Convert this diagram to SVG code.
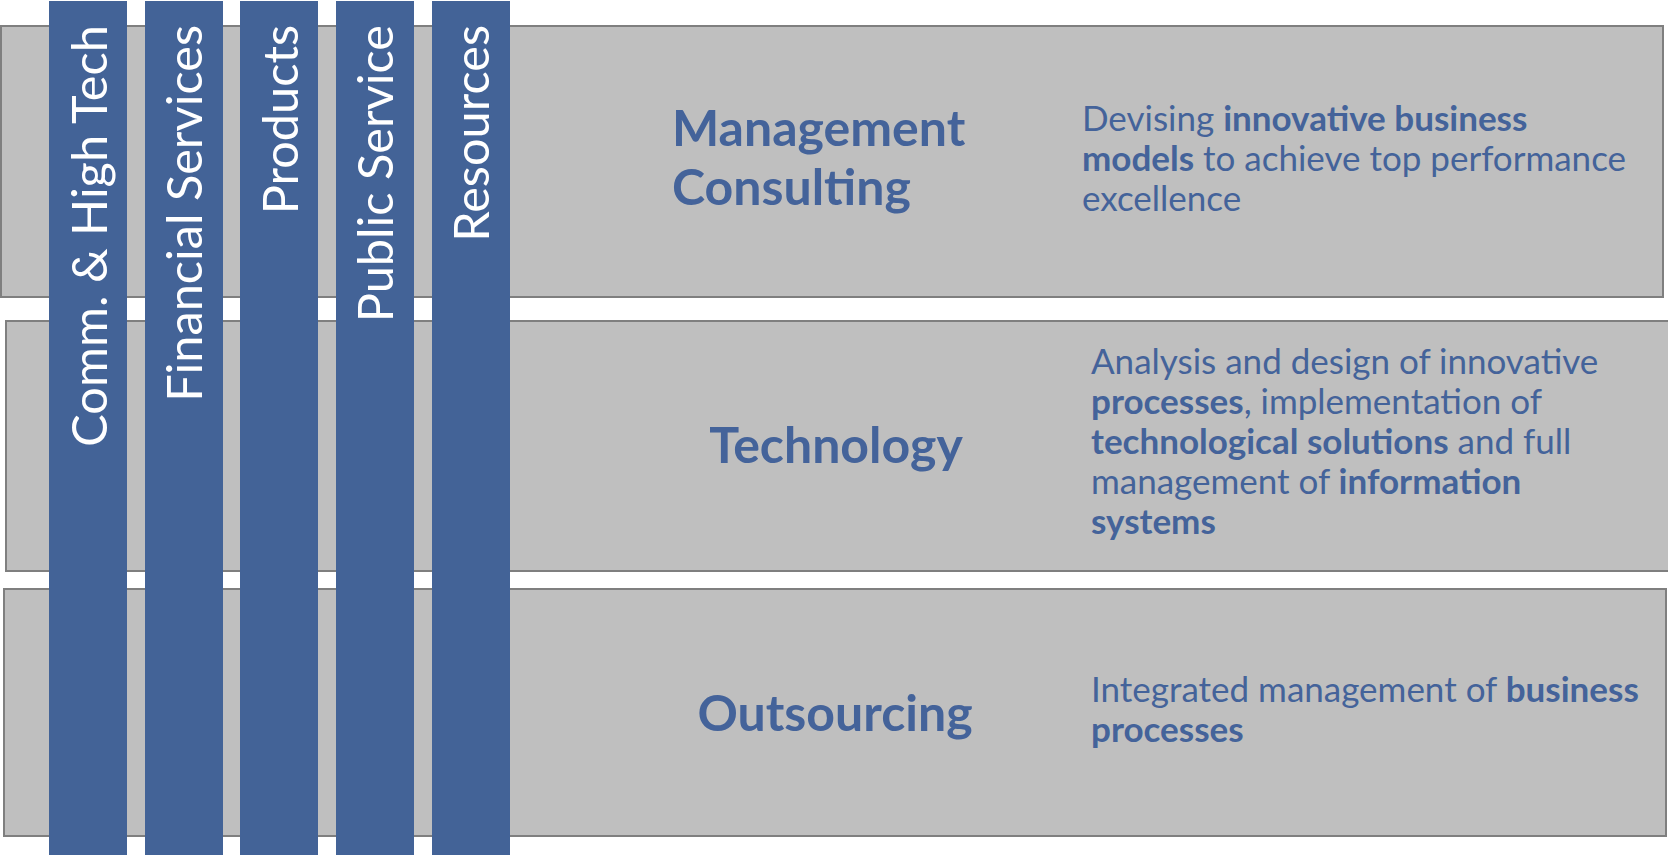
<svg xmlns="http://www.w3.org/2000/svg" width="1668" height="855" viewBox="0 0 1668 855">
<style>
.box{fill:#BFBFBF;stroke:#7F7F7F;stroke-width:2}
.bar{fill:#436397}
.vt{font-family:Lato,"Open Sans","Liberation Sans",sans-serif;font-size:48.7px;fill:#FFFFFF;text-anchor:end}
.title{font-family:Lato,"Open Sans","Liberation Sans",sans-serif;font-weight:bold;font-size:50px;fill:#44639A}
.desc{font-family:Lato,"Open Sans","Liberation Sans",sans-serif;font-size:35px;fill:#44639A}
.b{font-weight:bold}
</style>
<rect width="1668" height="855" fill="#FFFFFF"/>
<g id="row-management">
<rect class="box" x="1" y="26" width="1662" height="271"/>
<text class="title" x="672" y="146">Management</text>
<text class="title" x="672" y="205">Consulting</text>
<text class="desc" x="1082" y="131">Devising <tspan class="b">innovative business</tspan></text>
<text class="desc" x="1082" y="171"><tspan class="b">models</tspan> to achieve top performance</text>
<text class="desc" x="1082" y="211">excellence</text>
</g>
<g id="row-technology">
<rect class="box" x="6" y="321" width="1670" height="250"/>
<text class="title" x="836" y="463" text-anchor="middle">Technology</text>
<text class="desc" x="1091" y="374">Analysis and design of innovative</text>
<text class="desc" x="1091" y="414"><tspan class="b">processes</tspan>, implementation of</text>
<text class="desc" x="1091" y="454"><tspan class="b">technological solutions</tspan> and full</text>
<text class="desc" x="1091" y="494">management of <tspan class="b">information</tspan></text>
<text class="desc" x="1091" y="534"><tspan class="b">systems</tspan></text>
</g>
<g id="row-outsourcing">
<rect class="box" x="4" y="589" width="1662" height="247"/>
<text class="title" x="835" y="731" text-anchor="middle">Outsourcing</text>
<text class="desc" x="1091" y="702">Integrated management of <tspan class="b">business</tspan></text>
<text class="desc" x="1091" y="742"><tspan class="b">processes</tspan></text>
</g>
<g id="bar-comm">
<rect class="bar" x="49" y="1" width="78" height="854"/>
<text class="vt" transform="translate(106.5,25) rotate(-90)">Comm. &amp; High Tech</text>
</g>
<g id="bar-financial">
<rect class="bar" x="145" y="1" width="78" height="854"/>
<text class="vt" transform="translate(202,25) rotate(-90)">Financial Services</text>
</g>
<g id="bar-products">
<rect class="bar" x="240" y="1" width="78" height="854"/>
<text class="vt" transform="translate(297.5,25) rotate(-90)">Products</text>
</g>
<g id="bar-public">
<rect class="bar" x="336" y="1" width="78" height="854"/>
<text class="vt" transform="translate(393,25) rotate(-90)">Public Service</text>
</g>
<g id="bar-resources">
<rect class="bar" x="432" y="1" width="78" height="854"/>
<text class="vt" transform="translate(488.5,25) rotate(-90)">Resources</text>
</g>
<g id="connectors"/>
</svg>
